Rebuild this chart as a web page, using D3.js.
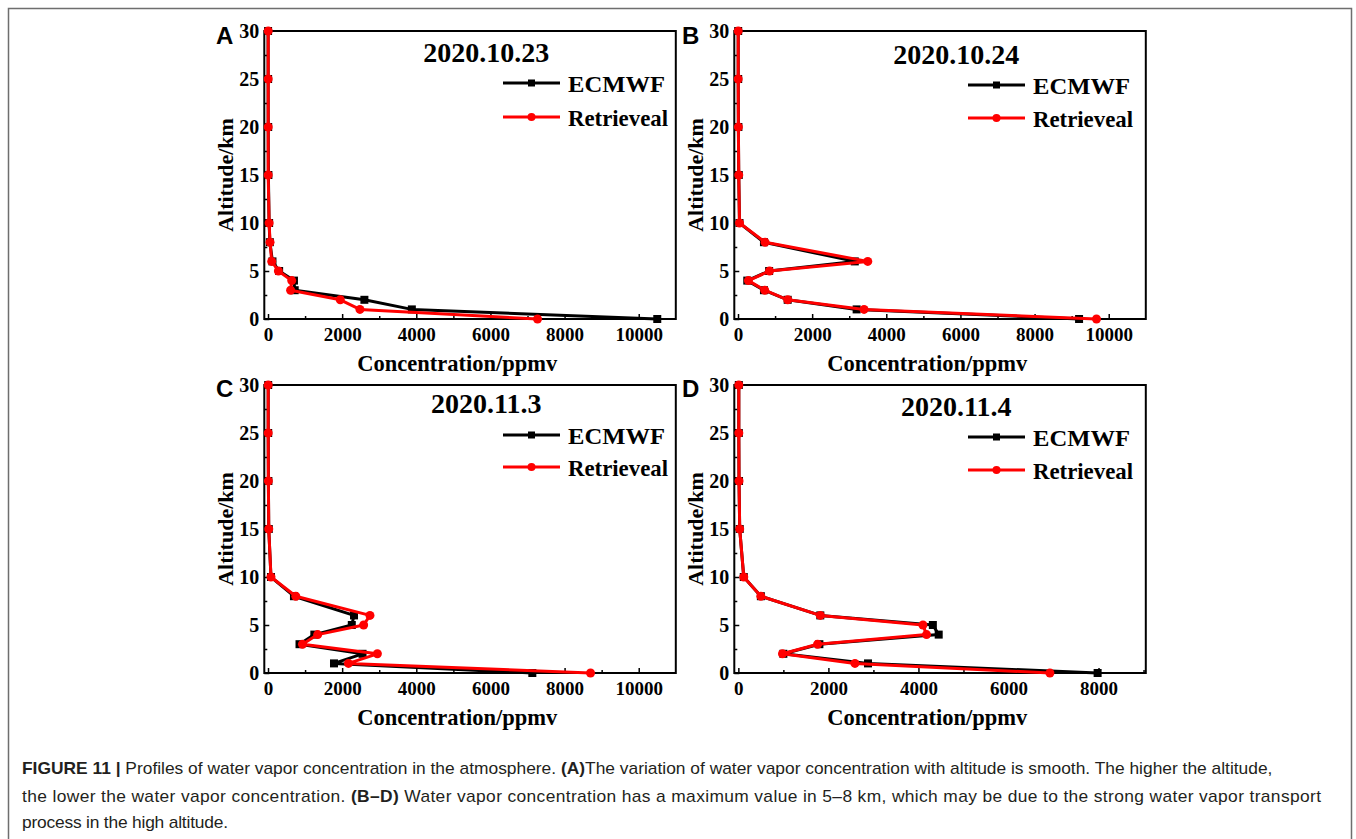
<!DOCTYPE html>
<html>
<head>
<meta charset="utf-8">
<script src="https://cdn.jsdelivr.net/npm/d3@7"></script>
<style>
  html, body { margin: 0; padding: 0; background: #fff; }
  svg { display: block; }
</style>
</head>
<body>
<svg id="chart" width="1356" height="839"></svg>
<script>
// ---- data ----
const altitudes = [0, 1, 2, 3, 4, 5, 6, 8, 10, 15, 20, 25, 30];
const ecmwfA = [10500, 3880, 2600, 720, 700, 300, 120, 50, 30, 10, 5, 3, 2];
const retrA  = [7270, 2480, 1950, 610, 640, 280, 100, 55, 30, 5, 5, 5, 5];
const ecmwfB = [9200, 3200, 1340, 700, 250, 840, 3150, 700, 40, 20, 10, 5, 5];
const retrB  = [9670, 3400, 1340, 720, 280, 850, 3500, 730, 40, 20, 10, 5, 5];
const ecmwfC = [7130, 1780, 2550, 850, 1250, 2260, 2320, 700, 80, 20, 10, 5, 5];
const retrC  = [8700, 2170, 2950, 930, 1340, 2580, 2750, 750, 80, 20, 10, 5, 5];
const ecmwfD = [7980, 2880, 1000, 1800, 4450, 4320, 1820, 500, 120, 30, 15, 10, 10];
const retrD  = [6920, 2590, 980, 1760, 4180, 4100, 1820, 500, 120, 30, 15, 10, 10];
const panelLabels = ["A", "B", "C", "D"];
const panelTitles = ["2020.10.23", "2020.10.24", "2020.11.3", "2020.11.4"];
const seriesNames = ["ECMWF", "Retrieveal"];
const xTicksWide = [0, 2000, 4000, 6000, 8000, 10000];
const xTicksNarrow = [0, 2000, 4000, 6000, 8000];
const yTicks = [0, 5, 10, 15, 20, 25, 30];
const xTitle = "Concentration/ppmv";
const yTitle = "Altitude/km";
const captionLines = [
  [["FIGURE 11 |", true], [" Profiles of water vapor concentration in the atmosphere. ", false], ["(A)", true], ["The variation of water vapor concentration with altitude is smooth. The higher the altitude,", false]],
  [["the lower the water vapor concentration. ", false], ["(B\u2013D)", true], [" Water vapor concentration has a maximum value in 5\u20138 km, which may be due to the strong water vapor transport", false]],
  [["process in the high altitude.", false]]
];

// ---- layout ----
const svg = d3.select("#chart");
const serif = "'Liberation Serif','Times New Roman',serif";
const sans = "'Liberation Sans',Arial,Helvetica,sans-serif";

// outer figure frame
svg.append("path")
  .attr("d", "M8.5,839 V8.5 H1351.5 V839")
  .attr("fill", "none").attr("stroke", "#6e6e6e").attr("stroke-width", 1.5);

const panels = [
  { left: 264.3, top: 31, ec: ecmwfA, rt: retrA, xmax: 11000, xmin: -100, ticks: xTicksWide,
    titleY: 62, legX: 503, legY: [92, 126], xtY: 371, ytX: 233, ytY: 175, lab: [216, 44] },
  { left: 734.3, top: 31, ec: ecmwfB, rt: retrB, xmax: 11000, xmin: -100, ticks: xTicksWide,
    titleY: 64, legX: 968, legY: [94, 127], xtY: 371, ytX: 703, ytY: 175, lab: [682, 44] },
  { left: 264.3, top: 385, ec: ecmwfC, rt: retrC, xmax: 11000, xmin: -100, ticks: xTicksWide,
    titleY: 413, legX: 503, legY: [444, 476], xtY: 725, ytX: 233, ytY: 529, lab: [216, 397] },
  { left: 734.3, top: 385, ec: ecmwfD, rt: retrD, xmax: 9050, xmin: -90, ticks: xTicksNarrow,
    titleY: 416, legX: 968, legY: [446, 479], xtY: 725, ytX: 703, ytY: 529, lab: [682, 397] }
];
const pw = 411.5, ph = 288;
const legendWidths = [97, 100];

panels.forEach((p, i) => {
  const g = svg.append("g");
  const x = d3.scaleLinear().domain([p.xmin, p.xmax]).range([p.left, p.left + pw]);
  const y = d3.scaleLinear().domain([0, 30]).range([p.top + ph, p.top]);

  const xMinor = d3.range(1000, p.xmax, 2000);
  const yMinor = d3.range(2.5, 30, 5);

  // x axis (ticks inward)
  const xAxis = d3.axisBottom(x).tickValues(p.ticks).tickSize(-5).tickPadding(8).tickFormat(d3.format("d"));
  const xa = g.append("g").attr("transform", `translate(0,${p.top + ph})`).call(xAxis);
  xa.select(".domain").remove();
  xa.selectAll(".tick line").attr("stroke", "#000").attr("stroke-width", 1.5);
  xa.selectAll(".tick text").attr("font-family", serif).attr("font-weight", "bold")
    .attr("font-size", 19).attr("fill", "#000").attr("dy", "0.75em");
  const xam = d3.axisBottom(x).tickValues(xMinor).tickSize(-3).tickFormat("");
  const xm = g.append("g").attr("transform", `translate(0,${p.top + ph})`).call(xam);
  xm.select(".domain").remove();
  xm.selectAll(".tick line").attr("stroke", "#000").attr("stroke-width", 1.5);

  // y axis
  const yAxis = d3.axisLeft(y).tickValues(yTicks).tickSize(-5).tickPadding(5);
  const ya = g.append("g").attr("transform", `translate(${p.left},0)`).call(yAxis);
  ya.select(".domain").remove();
  ya.selectAll(".tick line").attr("stroke", "#000").attr("stroke-width", 1.5);
  ya.selectAll(".tick text").attr("font-family", serif).attr("font-weight", "bold")
    .attr("font-size", 20).attr("fill", "#000");
  const yam = d3.axisLeft(y).tickValues(yMinor).tickSize(-3).tickFormat("");
  const ym = g.append("g").attr("transform", `translate(${p.left},0)`).call(yam);
  ym.select(".domain").remove();
  ym.selectAll(".tick line").attr("stroke", "#000").attr("stroke-width", 1.5);

  // frame
  g.append("rect").attr("x", p.left).attr("y", p.top).attr("width", pw).attr("height", ph)
    .attr("fill", "none").attr("stroke", "#000").attr("stroke-width", 2);

  // data
  const line = d3.line().x(d => x(d[0])).y(d => y(d[1]));
  const ecPts = p.ec.map((v, k) => [v, altitudes[k]]);
  const rtPts = p.rt.map((v, k) => [v, altitudes[k]]);
  g.append("path").datum(ecPts).attr("d", line).attr("fill", "none")
    .attr("stroke", "#000").attr("stroke-width", 3).attr("stroke-linejoin", "round");
  g.selectAll(".sq").data(ecPts).enter().append("rect")
    .attr("x", d => x(d[0]) - 4).attr("y", d => y(d[1]) - 4)
    .attr("width", 8).attr("height", 8).attr("fill", "#000");
  g.append("path").datum(rtPts).attr("d", line).attr("fill", "none")
    .attr("stroke", "#ff0000").attr("stroke-width", 3).attr("stroke-linejoin", "round");
  g.selectAll(".ci").data(rtPts).enter().append("circle")
    .attr("cx", d => x(d[0])).attr("cy", d => y(d[1])).attr("r", 4.5).attr("fill", "#ff0000");

  // title
  g.append("text").attr("x", p.left + 222).attr("y", p.titleY).attr("text-anchor", "middle")
    .attr("font-family", serif).attr("font-weight", "bold").attr("font-size", 28)
    .text(panelTitles[i]);

  // legend
  const colors = ["#000", "#ff0000"];
  seriesNames.forEach((s, k) => {
    const ly = p.legY[k] - 9;
    g.append("line").attr("x1", p.legX).attr("x2", p.legX + 57).attr("y1", ly).attr("y2", ly)
      .attr("stroke", colors[k]).attr("stroke-width", 3);
    if (k === 0) {
      g.append("rect").attr("x", p.legX + 28.5 - 3.5).attr("y", ly - 3.5).attr("width", 7).attr("height", 7).attr("fill", "#000");
    } else {
      g.append("circle").attr("cx", p.legX + 28.5).attr("cy", ly).attr("r", 4).attr("fill", "#ff0000");
    }
    g.append("text").attr("x", p.legX + 65).attr("y", p.legY[k])
      .attr("font-family", serif).attr("font-weight", "bold").attr("font-size", 24)
      .attr("textLength", legendWidths[k]).attr("lengthAdjust", "spacingAndGlyphs").text(s);
  });

  // axis titles
  g.append("text").attr("x", p.left + 193).attr("y", p.xtY).attr("text-anchor", "middle")
    .attr("font-family", serif).attr("font-weight", "bold").attr("font-size", 22.5).text(xTitle);
  g.append("text").attr("transform", `translate(${p.ytX},${p.ytY}) rotate(-90)`).attr("text-anchor", "middle")
    .attr("font-family", serif).attr("font-weight", "bold").attr("font-size", 22).text(yTitle);

  // panel label
  g.append("text").attr("x", p.lab[0]).attr("y", p.lab[1])
    .attr("font-family", sans).attr("font-weight", "bold").attr("font-size", 24).text(panelLabels[i]);
});

// ---- caption ----
const capBase = [774, 802, 828];
const capWidths = [1252, 1299, 206];
const cap = svg.append("g");
const texts = captionLines.map((segs, li) => {
  const t = cap.append("text").attr("x", 22).attr("y", capBase[li])
    .attr("font-family", sans).attr("font-size", 16).attr("fill", "#231f20")
    .attr("xml:space", "preserve");
  segs.forEach(s => {
    t.append("tspan").attr("font-weight", s[1] ? "bold" : "normal").text(s[0]);
  });
  return t;
});
const w1 = texts[0].node().getComputedTextLength();
const fs = 16 * capWidths[0] / w1;
texts.forEach((t, li) => {
  t.attr("font-size", fs);
  const w = t.node().getComputedTextLength();
  if (Math.abs(w - capWidths[li]) > 2) t.attr("textLength", capWidths[li]).attr("lengthAdjust", "spacing");
});
</script>
</body>
</html>
